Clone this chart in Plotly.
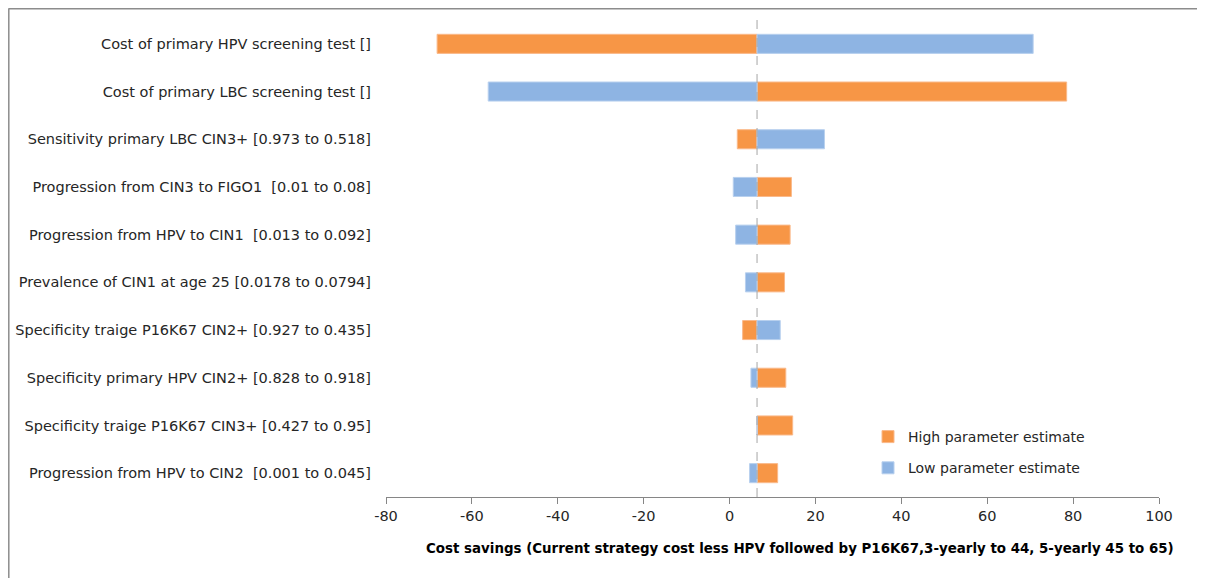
import plotly.graph_objects as go

categories = [
    "Cost of primary HPV screening test []",
    "Cost of primary LBC screening test []",
    "Sensitivity primary LBC CIN3+ [0.973 to 0.518]",
    "Progression from CIN3 to FIGO1  [0.01 to 0.08]",
    "Progression from HPV to CIN1  [0.013 to 0.092]",
    "Prevalence of CIN1 at age 25 [0.0178 to 0.0794]",
    "Specificity traige P16K67 CIN2+ [0.927 to 0.435]",
    "Specificity primary HPV CIN2+ [0.828 to 0.918]",
    "Specificity traige P16K67 CIN3+ [0.427 to 0.95]",
    "Progression from HPV to CIN2  [0.001 to 0.045]",
]
base_value = 6.4
high_values = [-68.1, 78.5, 1.8, 14.4, 14.1, 12.8, 3.05, 13.1, 14.7, 11.2]
low_values = [70.7, -56.2, 22.1, 0.86, 1.42, 3.7, 11.8, 4.98, 6.4, 4.66]

x_ticks = [-80, -60, -40, -20, 0, 20, 40, 60, 80, 100]
x_title = "Cost savings (Current strategy cost less HPV followed by P16K67,3-yearly to 44, 5-yearly 45 to 65)"

orange = "#F79646"
blue = "#8EB4E3"
font_family = "DejaVu Sans, Noto Sans, sans-serif"

fig = go.Figure()
fig.add_trace(go.Bar(
    y=categories, x=[v - base_value for v in high_values], base=base_value,
    orientation="h", name="High parameter estimate",
    marker=dict(color=orange, line=dict(color="#FAB98A", width=1)),
    width=0.4, legendgroup="high",
))
fig.add_trace(go.Bar(
    y=categories, x=[v - base_value for v in low_values], base=base_value,
    orientation="h", name="Low parameter estimate",
    marker=dict(color=blue, line=dict(color="#B8D0EE", width=1)),
    width=0.4, legendgroup="low",
))

# page body offset (browser default margin)
OFF = 8
W, H = 1205 - OFF, 578 - OFF
# reference pixel positions of plot area
ref_left, ref_right, ref_top, ref_bottom = 386, 1159, 20, 497
ml = ref_left - OFF
mr = W - (ref_right - OFF)
mt = ref_top - OFF
mb = H - (ref_bottom - OFF)
pw = ref_right - ref_left
ph = ref_bottom - ref_top

def px_x(p):
    return (p - ref_left) / pw

def px_y(p):
    return (ref_bottom - p) / ph

shapes = [
    dict(type="line", xref="x", yref="paper", x0=base_value, x1=base_value, y0=0, y1=1,
         line=dict(color="#A6A6A6", width=1, dash="dash")),
    dict(type="line", xref="paper", yref="paper", x0=px_x(8.5), x1=px_x(1215), y0=px_y(8.8), y1=px_y(8.8),
         line=dict(color="#8C8C8C", width=1.5)),
    dict(type="line", xref="paper", yref="paper", x0=px_x(8.8), x1=px_x(8.8), y0=px_y(8.5), y1=px_y(590),
         line=dict(color="#8C8C8C", width=1.5)),
]

annotations = [
    dict(text="<b>" + x_title + "</b>", xref="paper", yref="paper",
         x=px_x(800), y=px_y(548), xanchor="center", yanchor="middle", showarrow=False,
         font=dict(size=13.4, color="#000000")),
]

fig.update_layout(
    width=W, height=H,
    margin=dict(l=ml, r=mr, t=mt, b=mb, autoexpand=False),
    paper_bgcolor="white", plot_bgcolor="white",
    barmode="overlay",
    font=dict(family=font_family, size=14, color="#262626"),
    showlegend=True,
    legend=dict(x=px_x(868), y=px_y(421), xanchor="left", yanchor="top",
                bgcolor="rgba(0,0,0,0)", font=dict(size=14, color="#262626"),
                traceorder="grouped", tracegroupgap=10, itemwidth=30),
    shapes=shapes,
    annotations=annotations,
    xaxis=dict(range=[-80, 100], tickvals=x_ticks, ticktext=[str(t) for t in x_ticks],
               showgrid=False, zeroline=False, showline=True, linecolor="#868686", linewidth=1,
               ticks="outside", ticklen=6, tickcolor="#868686", automargin=False,
               tickfont=dict(size=14.5, color="#262626")),
    yaxis=dict(autorange="reversed", showgrid=False, zeroline=False, showline=False,
               ticks="", ticklabelstandoff=14, automargin=False,
               tickfont=dict(size=14.5, color="#262626")),
)

fig.write_html("out.html")
